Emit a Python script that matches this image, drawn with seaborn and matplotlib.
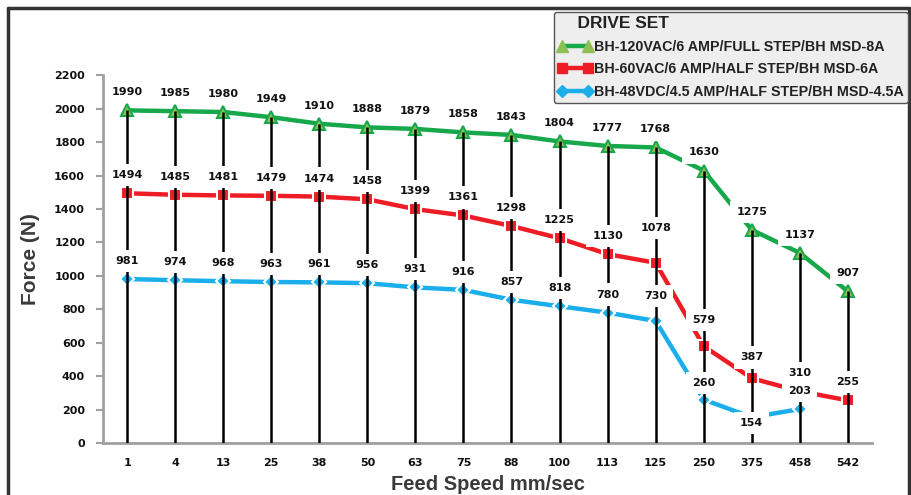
import numpy as np
import pandas as pd
import matplotlib
matplotlib.use("Agg")
import matplotlib.pyplot as plt
from matplotlib.lines import Line2D
import seaborn as sns

speeds = ["1", "4", "13", "25", "38", "50", "63", "75", "88", "100", "113", "125", "250", "375", "458", "542"]
green_vals = [1990, 1985, 1980, 1949, 1910, 1888, 1879, 1858, 1843, 1804, 1777, 1768, 1630, 1275, 1137, 907]
red_vals = [1494, 1485, 1481, 1479, 1474, 1458, 1399, 1361, 1298, 1225, 1130, 1078, 579, 387, 310, 255]
blue_vals = [981, 974, 968, 963, 961, 956, 931, 916, 857, 818, 780, 730, 260, 154, 203]

names = ["BH-120VAC/6 AMP/FULL STEP/BH MSD-8A",
         "BH-60VAC/6 AMP/HALF STEP/BH MSD-6A",
         "BH-48VDC/4.5 AMP/HALF STEP/BH MSD-4.5A"]

# label offsets in points (default 13 above the point)
label_off = {(1, 11): 25, (2, 11): 18, (1, 12): 19, (2, 12): 12, (2, 13): -4,
             (1, 13): 15}

sns.set_theme(style="white")
plt.rcParams['font.family'] = ['DejaVu Sans']

rows = []
for name, vals in zip(names, [green_vals, red_vals, blue_vals]):
    for i, v in enumerate(vals):
        rows.append({"pos": i, "force": v, "series": name})
df = pd.DataFrame(rows)

colors = {names[0]: "#16a84a", names[1]: "#ee1c24", names[2]: "#1aaeea"}
markers = {names[0]: "^", names[1]: "s", names[2]: "D"}

fig = plt.figure(figsize=(9.12, 4.95), dpi=100)
ax = fig.add_axes([0.113, 0.105, 0.843, 0.743])

sns.lineplot(data=df, x="pos", y="force", hue="series", style="series",
             palette=colors, markers=markers, dashes=False, linewidth=3.2,
             markersize=8, markeredgewidth=1.5, legend=False, ax=ax, zorder=2)

# green triangles have light fill
for ln in ax.get_lines():
    if ln.get_color() == colors[names[0]]:
        ln.set_markerfacecolor("#8cc152")
        ln.set_markeredgecolor("#16a84a")
    elif ln.get_color() == colors[names[2]]:
        ln.set_markersize(7)

pos = np.arange(len(speeds))
ax.vlines(pos, 0, green_vals, color="black", linewidth=1.8, zorder=3)

for s, vals in enumerate([green_vals, red_vals, blue_vals]):
    for i, v in enumerate(vals):
        off = label_off.get((s, i), 13)
        ax.annotate(str(v), (i, v), xytext=(0, off), textcoords="offset points",
                    ha="center", va="center", fontsize=8, fontweight="bold",
                    color="#111111", zorder=5,
                    bbox=dict(boxstyle="square,pad=0.55", fc="white", ec="none"))

ax.set_xlim(-0.5, 15.5)
ax.set_ylim(0, 2200)
ax.set_yticks(range(0, 2201, 200))
ax.set_xticks(pos)
ax.set_xticklabels(speeds)
for sp in ["top", "right"]:
    ax.spines[sp].set_visible(False)
for sp in ["left", "bottom"]:
    ax.spines[sp].set_color("#a0a0a0")
    ax.spines[sp].set_linewidth(2)
ax.tick_params(axis="y", length=5, width=1.5, color="#a0a0a0", pad=8,
               labelsize=8, left=True)
ax.tick_params(axis="x", length=0, pad=11, labelsize=8)
for t in ax.get_xticklabels() + ax.get_yticklabels():
    t.set_fontweight("bold")
    t.set_color("#111111")

ax.set_ylabel("Force (N)", fontsize=15, fontweight="bold", color="#3a3a3a",
              family=["Liberation Sans", "DejaVu Sans"], labelpad=10)
ax.set_xlabel("Feed Speed mm/sec", fontsize=14.5, fontweight="bold", color="#3a3a3a",
              family=["Liberation Sans", "DejaVu Sans"], labelpad=5)

handles = [
    Line2D([], [], color=colors[names[0]], lw=3.2, marker="^", ms=8,
           mfc="#8cc152", mec="#8cc152"),
    Line2D([], [], color=colors[names[1]], lw=3.2, marker="s", ms=7),
    Line2D([], [], color=colors[names[2]], lw=3.2, marker="D", ms=6),
]
leg = fig.legend(handles, names, loc="upper left", bbox_to_anchor=(0.607, 0.976),
                 numpoints=2, handlelength=2.4, handletextpad=0.1,
                 title="    DRIVE SET", alignment="left", frameon=True,
                 fancybox=True, borderpad=0.3, borderaxespad=0, labelspacing=0.6,
                 prop={"family": ["Liberation Sans", "DejaVu Sans"], "weight": "bold", "size": 10.3},
                 title_fontproperties={"family": ["Liberation Sans", "DejaVu Sans"],
                                       "weight": "bold", "size": 12.5})
leg.get_frame().set_facecolor("#eeeeee")
leg.get_frame().set_edgecolor("#555555")
leg.get_frame().set_linewidth(1.0)
leg.get_frame().set_alpha(1)
for t in leg.get_texts():
    t.set_color("#222222")
leg.get_title().set_color("#222222")

# outer frame
fc = "#333333"
fig.add_artist(Line2D([8 / 912, 8 / 912], [0, 1 - 8 / 495], color=fc, lw=2.5,
                      transform=fig.transFigure))
fig.add_artist(Line2D([8 / 912, 909 / 912], [1 - 8 / 495, 1 - 8 / 495], color=fc, lw=2.5,
                      transform=fig.transFigure))
fig.add_artist(Line2D([909 / 912, 909 / 912], [0, 1 - 8 / 495], color=fc, lw=2.5,
                      transform=fig.transFigure))

fig.savefig("out.png", dpi=100)
